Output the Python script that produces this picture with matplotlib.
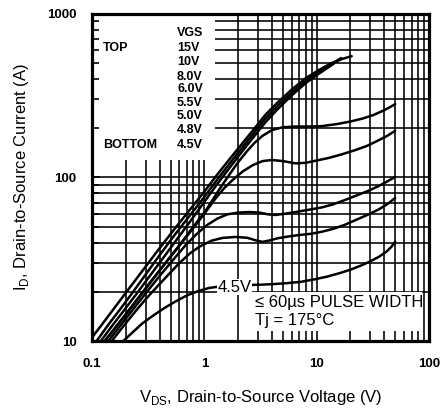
import matplotlib
matplotlib.use('Agg')
import matplotlib.pyplot as plt
from matplotlib.ticker import FixedLocator, FixedFormatter, LogLocator, NullFormatter
from matplotlib.patches import Rectangle

plt.rcParams['font.family'] = ['Liberation Sans', 'DejaVu Sans']

# ---------------- data ----------------
vgs_labels = ['15V', '10V', '8.0V', '6.0V', '5.5V', '5.0V', '4.8V', '4.5V']

v_15 = [0.1, 0.13, 0.17, 0.22, 0.3, 0.4, 0.55, 0.75, 1.0, 1.3, 1.7, 2.2, 2.8, 3.5, 4.5, 6, 8, 10.5, 13.5, 17, 20.5]
i_15 = [10.5, 13.3, 17, 21.5, 28.5, 37, 49, 64, 82, 104, 131, 163, 200, 242, 288, 345, 405, 455, 500, 532, 552]

v_10 = [0.11, 0.14, 0.18, 0.23, 0.3, 0.4, 0.55, 0.75, 1.0, 1.3, 1.7, 2.2, 2.8, 3.5, 4.5, 6, 8, 10.5, 13.5, 16.5]
i_10 = [10, 12.6, 15.8, 19.8, 25.5, 33.5, 45, 59, 76, 97, 123, 154, 190, 230, 275, 330, 390, 442, 492, 538]

v_8 = [0.12, 0.15, 0.19, 0.25, 0.32, 0.42, 0.55, 0.75, 1.0, 1.3, 1.7, 2.2, 2.8, 3.5, 4.5, 6, 8, 10.5, 13.5, 16]
i_8 = [10, 12.3, 15.2, 19.5, 24.5, 31.5, 40.5, 54, 71, 91, 116, 146, 180, 218, 262, 318, 378, 432, 485, 528]

v_6 = [0.13, 0.16, 0.2, 0.26, 0.34, 0.45, 0.6, 0.8, 1.05, 1.35, 1.7, 2.0, 2.4, 2.8, 3.3, 4.0, 5.0, 6.5, 8.5, 11, 15, 20, 26, 32, 38, 44, 50]
i_6 = [10, 12, 14.6, 18.5, 23.5, 30, 38.5, 50, 64, 84, 106, 124, 145, 163, 180, 195, 203, 205, 205, 206, 212, 220, 230, 241, 254, 267, 281]

v_55 = [0.13, 0.17, 0.22, 0.3, 0.4, 0.55, 0.75, 1.0, 1.25, 1.5, 1.8, 2.2, 2.7, 3.3, 4.0, 5.0, 6.5, 8.0, 10, 13, 17, 22, 28, 35, 42, 50]
i_55 = [10, 12.6, 15.8, 20.8, 27, 35.5, 46.5, 60, 74, 86, 97, 109, 119, 126, 128, 126, 122, 123, 127, 132, 139, 147, 156, 168, 179, 193]

v_5 = [0.14, 0.18, 0.23, 0.3, 0.4, 0.52, 0.68, 0.85, 1.05, 1.3, 1.6, 2.0, 2.5, 3.1, 3.7, 4.3, 5.2, 6.5, 8.5, 11, 14, 18, 23, 29, 36, 43, 50]
i_5 = [10, 12.5, 15.5, 19.5, 25, 31, 38.5, 45, 51, 56, 59.5, 61, 61.5, 61, 59.5, 59, 60, 61.5, 63.5, 65.5, 68.5, 73, 78, 83, 89, 95, 101]

v_48 = [0.15, 0.19, 0.24, 0.3, 0.38, 0.48, 0.6, 0.75, 0.92, 1.15, 1.45, 1.9, 2.4, 2.9, 3.3, 3.8, 4.5, 5.5, 7, 9, 11, 14, 18, 23, 29, 36, 43, 50]
i_48 = [10, 12.3, 15, 18, 21.5, 25.5, 30, 34.5, 38, 41, 42.7, 43.3, 42.8, 41.2, 40.4, 41.2, 42.5, 43.5, 44.5, 45.3, 46.5, 48.5, 51.5, 55.5, 59.5, 64, 69, 75]

v_45 = [0.19, 0.23, 0.28, 0.35, 0.44, 0.55, 0.7, 0.88, 1.1, 1.4, 1.8, 2.4, 3.2, 4.2, 5.5, 7.2, 9.5, 12.5, 16, 20, 25, 30, 36, 42, 46, 50]
i_45 = [10, 11.3, 12.8, 14.3, 15.9, 17.4, 19, 20.2, 21.1, 21.6, 21.9, 22, 22.1, 22.3, 22.6, 23, 23.8, 24.8, 26, 27.3, 29, 30.7, 32.8, 35.3, 37.5, 40.5]

curves_v = [v_15, v_10, v_8, v_6, v_55, v_5, v_48, v_45]
curves_i = [i_15, i_10, i_8, i_6, i_55, i_5, i_48, i_45]

x_ticks = [0.1, 1, 10, 100]
x_tick_labels = ['0.1', '1', '10', '100']
y_ticks = [10, 100, 1000]
y_tick_labels = ['10', '100', '1000']

# ---------------- figure ----------------
W, H = 446, 411
fig = plt.figure(figsize=(W / 100, H / 100), dpi=100)
pos = [92 / W, 1 - 341 / H, 337 / W, 327 / H]
ax = fig.add_axes(pos)
ax.set_xscale('log')
ax.set_yscale('log')
ax.set_xlim(0.1, 100)
ax.set_ylim(10, 1000)
ax.set_axisbelow(True)

ax.xaxis.set_major_locator(FixedLocator(x_ticks))
ax.xaxis.set_major_formatter(FixedFormatter(x_tick_labels))
ax.yaxis.set_major_locator(FixedLocator(y_ticks))
ax.yaxis.set_major_formatter(FixedFormatter(y_tick_labels))
ax.xaxis.set_minor_locator(LogLocator(base=10, subs=range(2, 10)))
ax.yaxis.set_minor_locator(LogLocator(base=10, subs=range(2, 10)))
ax.xaxis.set_minor_formatter(NullFormatter())
ax.yaxis.set_minor_formatter(NullFormatter())

ax.grid(True, which='both', color='black', lw=1.15)
ax.tick_params(which='both', length=0)
ax.tick_params(axis='x', pad=12)
ax.tick_params(axis='y', pad=11)
for lab in ax.get_xticklabels() + ax.get_yticklabels():
    lab.set_fontweight('bold')
    lab.set_fontsize(9.5)

for s in ax.spines.values():
    s.set_linewidth(2.3)
    s.set_zorder(5)

# white masks (legend area and text box)
ax.add_patch(Rectangle((0, 0.553), 0.365, 0.447, transform=ax.transAxes,
                       facecolor='white', edgecolor='none', zorder=1))
ax.add_patch(Rectangle((0.475, 0.031), 0.504, 0.119, transform=ax.transAxes,
                       facecolor='white', edgecolor='none', zorder=1))

for v, i in zip(curves_v, curves_i):
    ax.plot(v, i, color='black', lw=1.8, zorder=3, solid_capstyle='round')

# overlay axes for left ticks inside the white area
axt = fig.add_axes(pos, sharex=ax, sharey=ax, frameon=False)
axt.tick_params(which='both', direction='in', left=True, bottom=False,
                labelleft=False, labelbottom=False, width=1.2)
axt.tick_params(which='major', length=6)
axt.tick_params(which='minor', length=5)
axt.patch.set_alpha(0)

# legend text
leg_x = 177 / W
rows_y = [48, 62, 77, 89, 103, 116, 130, 145]
fs_leg = 9
fig.text(leg_x, 1 - 33 / H, 'VGS', fontsize=fs_leg, fontweight='bold', va='center', ha='left')
for lab, yy in zip(vgs_labels, rows_y):
    fig.text(leg_x, 1 - yy / H, lab, fontsize=fs_leg, fontweight='bold', va='center', ha='left')
fig.text(103 / W, 1 - 48 / H, 'TOP', fontsize=fs_leg, fontweight='bold', va='center', ha='left')
fig.text(103 / W, 1 - 145 / H, 'BOTTOM', fontsize=fs_leg, fontweight='bold', va='center', ha='left')

# 4.5V label
ax.text(0.372, 0.165, '4.5V', transform=ax.transAxes, fontsize=12, va='center', ha='left',
        zorder=6, bbox=dict(facecolor='white', edgecolor='none', pad=0.3))

# pulse text
ax.text(0.484, 0.119, '\u2264 60\u00b5s PULSE WIDTH', transform=ax.transAxes, fontsize=12,
        va='center', ha='left', zorder=6)
ax.text(0.484, 0.064, 'Tj = 175\u00b0C', transform=ax.transAxes, fontsize=12,
        va='center', ha='left', zorder=6)

# axis labels
fig.text(261 / W, 1 - 397 / H, r'V$_{\mathregular{DS}}$, Drain-to-Source Voltage (V)',
         fontsize=12, ha='center', va='center')
fig.text(22 / W, 1 - 177 / H, r'I$_{\mathregular{D}}$, Drain-to-Source Current (A)',
         fontsize=12, ha='center', va='center', rotation=90)

fig.savefig('out.png', dpi=100)
